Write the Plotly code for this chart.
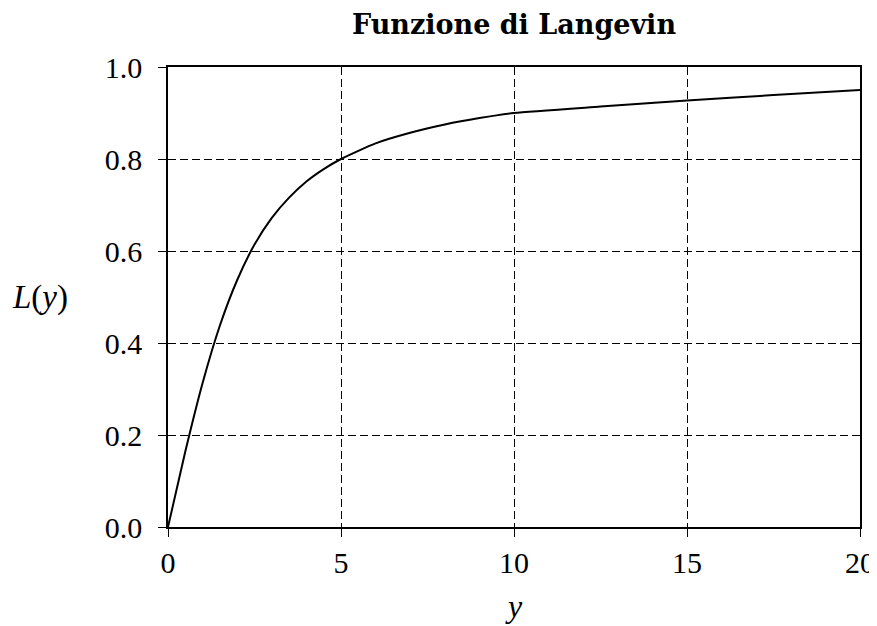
import plotly.graph_objects as go

# values
y_vals = [0, 0.5, 1, 1.5, 2, 2.5, 3, 3.5, 4, 4.5, 5, 6, 7, 8, 9, 10, 12.5, 15, 17.5, 20]
L_vals = [0.0, 0.164, 0.313, 0.438, 0.537, 0.614, 0.672, 0.716, 0.751, 0.778, 0.800,
          0.834, 0.857, 0.875, 0.889, 0.900, 0.914, 0.927, 0.939, 0.950]
x_ticks = [0, 5, 10, 15, 20]
y_ticks = [0.0, 0.2, 0.4, 0.6, 0.8, 1.0]
y_tick_text = ["0.0", "0.2", "0.4", "0.6", "0.8", "1.0"]

FONT = "Liberation Serif"

fig = go.Figure()
fig.add_trace(go.Scatter(x=y_vals, y=L_vals, mode="lines",
                         line=dict(color="black", width=2, shape="spline", smoothing=0.6),
                         showlegend=False, hoverinfo="skip"))

axis_common = dict(showgrid=True, gridcolor="black", gridwidth=1, griddash="8px,4px",
                   showline=True, linecolor="black", linewidth=1.5, mirror=True,
                   ticks="outside", ticklen=8, tickcolor="black", tickwidth=1,
                   zeroline=False, automargin=False, ticklabeloverflow="allow",
                   tickfont=dict(family=FONT, size=30, color="black"))

fig.update_xaxes(range=[0, 20], tickvals=x_ticks, **axis_common)
fig.update_yaxes(range=[0, 1], tickvals=y_ticks, ticktext=y_tick_text,
                 ticklabelstandoff=10, **axis_common)

W, H = 869, 618
fig.update_layout(
    width=W, height=H,
    margin=dict(l=160, r=17, t=59, b=99, autoexpand=False),
    plot_bgcolor="white", paper_bgcolor="white",
    title=dict(text="<b>Funzione di Langevin</b>", x=506 / W, xanchor="center",
               y=1 - 17 / H, yanchor="middle",
               font=dict(family="DejaVu Serif", size=27, color="black")),
    annotations=[
        dict(text="<i>L</i>(<i>y</i>)", xref="paper", yref="paper", x=-0.185, y=0.498,
             xanchor="center", yanchor="middle", showarrow=False,
             font=dict(family=FONT, size=33, color="black")),
        dict(text="<i>y</i>", xref="paper", yref="paper", x=0.5, y=-0.172,
             xanchor="center", yanchor="middle", showarrow=False,
             font=dict(family=FONT, size=32, color="black")),
    ],
)

fig.write_html("out.html")
